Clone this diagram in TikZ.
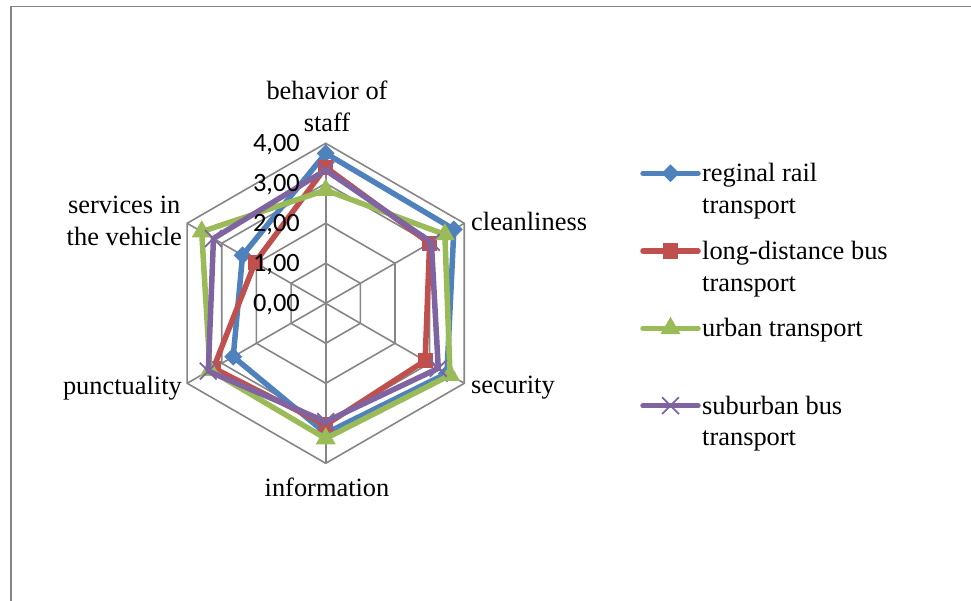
\documentclass[tikz,border=0pt]{standalone}
\usepackage{fontspec}
\setmainfont{Liberation Serif}
\newfontfamily\tickfont{Carlito}
\usetikzlibrary{shapes.geometric,shapes.misc,calc}
\definecolor{axgray}{HTML}{868686}
\definecolor{crail}{HTML}{4F81BD}
\definecolor{cbus}{HTML}{C0504D}
\definecolor{curban}{HTML}{9BBB59}
\definecolor{csub}{HTML}{8064A2}
\tikzset{
  gridln/.style={draw=axgray,line width=1.6bp},
  framelin/.style={draw=axgray,line width=1.6bp},
  series/.style={line width=5.5bp,line join=round,line cap=round},
  lbl/.style={font=\fontsize{26.4bp}{31.7bp}\selectfont,align=center,inner sep=0pt},
  ticklbl/.style={font=\tickfont\fontsize{26.4bp}{31.7bp}\selectfont,inner sep=0pt,anchor=east},
  mdiam/.style={diamond,fill=crail,inner sep=0pt,minimum size=18bp},
  msq/.style={rectangle,fill=cbus,inner sep=0pt,minimum size=15bp},
  mtri/.style={regular polygon,regular polygon sides=3,fill=curban,inner sep=0pt,minimum size=23bp},
  mcross/.style={cross out,draw=csub,line width=1.8bp,inner sep=0pt,minimum size=15bp},
}

\begin{document}
\begin{tikzpicture}[x=1bp,y=-1bp]
  \useasboundingbox (0,0) rectangle (971,601);
  \draw[framelin] (11,601) -- (11,6.5) -- (971,6.5);

  % radar grid
  \begin{scope}[shift={(325.7,303.3)}]
    \coordinate (cen) at (0,0);
    \foreach \r in {1,...,4}
      \draw[gridln] (-90:{\r*40}) -- (-30:{\r*40}) -- (30:{\r*40}) -- (90:{\r*40})
        -- (150:{\r*40}) -- (210:{\r*40}) -- cycle;
    \foreach \a in {-90,-30,...,210}
      \draw[gridln] (cen) -- (\a:160);

    % regional rail
    \foreach \v [count=\i from 0] in {3.75,3.7,3.5,3.25,2.67,2.4}
      \coordinate (rl\i) at ({-90+60*\i}:{\v*40});
    \draw[series,crail] (rl0) -- (rl1) -- (rl2) -- (rl3) -- (rl4) -- (rl5) -- cycle;
    \foreach \i in {0,...,5} \node[mdiam] (rlm\i) at (rl\i) {};

    % long-distance bus
    \foreach \v [count=\i from 0] in {3.4,3.0,2.87,3.04,3.24,2.04}
      \coordinate (lb\i) at ({-90+60*\i}:{\v*40});
    \draw[series,cbus] (lb0) -- (lb1) -- (lb2) -- (lb3) -- (lb4) -- (lb5) -- cycle;
    \foreach \i in {0,...,5} \node[msq] (lbm\i) at (lb\i) {};

    % urban
    \foreach \v [count=\i from 0] in {2.83,3.44,3.59,3.38,3.34,3.58}
      \coordinate (ub\i) at ({-90+60*\i}:{\v*40});
    \draw[series,curban] (ub0) -- (ub1) -- (ub2) -- (ub3) -- (ub4) -- (ub5) -- cycle;
    \foreach \i in {0,...,5} \node[mtri] (ubm\i) at (ub\i) {};

    % suburban bus
    \foreach \v [count=\i from 0] in {3.33,3.05,3.25,2.96,3.39,3.24}
      \coordinate (sb\i) at ({-90+60*\i}:{\v*40});
    \draw[series,csub] (sb0) -- (sb1) -- (sb2) -- (sb3) -- (sb4) -- (sb5) -- cycle;
    \foreach \i in {0,...,5} \node[mcross] (sbm\i) at (sb\i) {};
  \end{scope}

  % scale values
  \node[ticklbl] (t4) at (300,145) {4,00};
  \node[ticklbl] (t3) at (300,185) {3,00};
  \node[ticklbl] (t2) at (300,225) {2,00};
  \node[ticklbl] (t1) at (300,265) {1,00};
  \node[ticklbl] (t0) at (300,305) {0,00};

  % axis labels
  \node[lbl] (staff) at (327,106) {behavior of\\staff};
  \node[lbl,anchor=west] (clean) at (471,221) {cleanliness};
  \node[lbl,anchor=west] (secur) at (471,388) {security};
  \node[lbl] (info) at (327,487) {information};
  \node[lbl,anchor=east] (punct) at (182,388) {punctuality};
  \node[lbl,anchor=east] (servc) at (182,221) {services in\\the vehicle};

  % legend
  \coordinate (lg1a) at (643,173.3); \coordinate (lg1b) at (698,173.3);
  \coordinate (lg2a) at (643,251);   \coordinate (lg2b) at (698,251);
  \coordinate (lg3a) at (643,328.3); \coordinate (lg3b) at (698,328.3);
  \coordinate (lg4a) at (643,405.7); \coordinate (lg4b) at (698,405.7);
  \draw[series,crail] (lg1a) -- (lg1b);  \node[mdiam] (lgm1) at ($(lg1a)!0.5!(lg1b)$) {};
  \draw[series,cbus] (lg2a) -- (lg2b);   \node[msq] (lgm2) at ($(lg2a)!0.5!(lg2b)$) {};
  \draw[series,curban] (lg3a) -- (lg3b); \node[mtri] (lgm3) at ($(lg3a)!0.5!(lg3b)$) {};
  \draw[series,csub] (lg4a) -- (lg4b);   \node[mcross] (lgm4) at ($(lg4a)!0.5!(lg4b)$) {};
  \node[lbl,align=left,anchor=base west] (lgt1) at (702,213.4) {reginal rail\\transport};
  \node[lbl,align=left,anchor=base west] (lgt2) at (702,291.1) {long-distance bus\\transport};
  \node[lbl,align=left,anchor=base west] (lgt3) at (702,336.7) {urban transport};
  \node[lbl,align=left,anchor=base west] (lgt4) at (702,445.8) {suburban bus\\transport};
\end{tikzpicture}
\end{document}
